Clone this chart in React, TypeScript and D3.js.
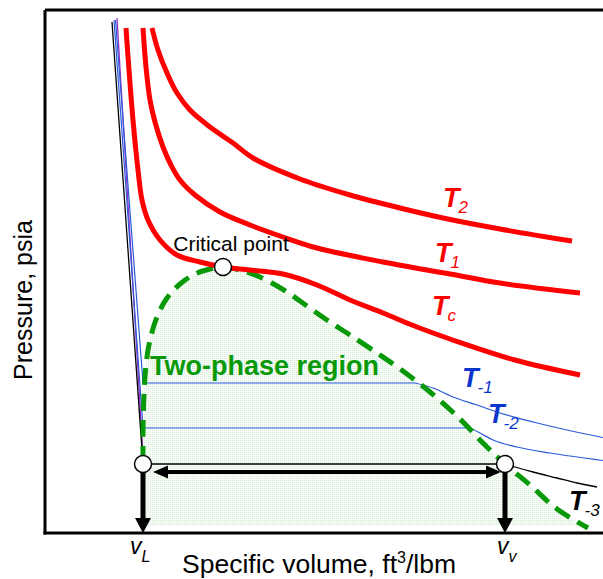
import React from 'react';
import * as d3 from 'd3';

const WIDTH = 603;
const HEIGHT = 579;

// Axis extents (arbitrary units of specific volume and pressure)
const VOLUME_MAX = 11.16;
const PRESSURE_MAX = 10.46;

// Supercritical / critical isotherms: [specific volume, pressure]
const isothermT2: [number, number][] = [
  [2.14, 10.1], [2.26, 9.66], [2.44, 9.2], [2.64, 8.8], [2.9, 8.46], [3.3, 8.12],
  [3.76, 7.8], [4.16, 7.5], [5.1, 7.08], [6.1, 6.76], [7.1, 6.5], [7.96, 6.3],
  [9.1, 6.08], [10.54, 5.84],
];
const isothermT1: [number, number][] = [
  [1.96, 10.1], [2.02, 9.32], [2.1, 8.66], [2.2, 8.22], [2.36, 7.72], [2.52, 7.36],
  [2.7, 7.06], [3.0, 6.76], [3.5, 6.42], [4.1, 6.16], [4.76, 5.92], [5.44, 5.7],
  [6.76, 5.42], [8.1, 5.18], [9.1, 5.0], [10.7, 4.8],
];
const isothermTc: [number, number][] = [
  [1.62, 10.1], [1.68, 9.26], [1.76, 8.26], [1.86, 7.26], [1.94, 6.66], [2.06, 6.26],
  [2.3, 5.86], [2.64, 5.56], [3.1, 5.42], [3.56, 5.32], [4.1, 5.26], [4.76, 5.18],
  [5.44, 4.96], [6.1, 4.66], [6.76, 4.4], [7.44, 4.12], [8.1, 3.88], [9.4, 3.46],
  [10.7, 3.16],
];

// Saturation dome (liquid branch up to the critical point, then vapour branch)
const saturationDome: [number, number][] = [
  [1.96, 1.4], [1.96, 2.06], [1.98, 2.76], [2.02, 3.36], [2.1, 3.86], [2.24, 4.32],
  [2.44, 4.7], [2.7, 4.98], [3.0, 5.18], [3.3, 5.28], [3.56, 5.32], [3.9, 5.26],
  [4.3, 5.12], [4.84, 4.82], [5.1, 4.64], [5.64, 4.26], [6.1, 3.96], [6.7, 3.56],
  [7.1, 3.28], [7.7, 2.82], [8.3, 2.28], [8.76, 1.8], [9.2, 1.38], [9.7, 0.96],
  [10.24, 0.48], [10.86, 0.1],
];
const twoPhaseFloor = 0.14;
const criticalPoint: [number, number] = [3.56, 5.32];

// Subcritical isotherms: compressed liquid, saturated plateau, superheated vapour
const liquidTopT1: [number, number] = [1.41, 10.26];
const liquidTopT2: [number, number] = [1.38, 10.26];
const liquidTopT3: [number, number] = [1.34, 10.22];
const liquidTopExtra: [number, number] = [1.44, 10.3];
const liquidEndExtra: [number, number] = [1.96, 1.56];
const satLiquidVolume = 1.96;
const plateauT1 = { pressure: 3.0, vaporVolume: 7.4 };
const plateauT2 = { pressure: 2.1, vaporVolume: 8.5 };
const plateauT3 = { pressure: 1.38, vaporVolume: 9.2 };
const vaporT1: [number, number][] = [
  [7.4, 3.0], [7.76, 2.9], [8.16, 2.72], [8.64, 2.56], [9.1, 2.4], [9.76, 2.22],
  [10.44, 2.06], [11.16, 1.91],
];
const vaporT2: [number, number][] = [
  [8.5, 2.1], [8.7, 2.0], [8.96, 1.86], [9.44, 1.72], [10.1, 1.6], [11.16, 1.45],
];
const vaporT3: [number, number][] = [
  [9.2, 1.38], [9.4, 1.32], [9.76, 1.22], [10.24, 1.1], [10.64, 1.0], [11.04, 0.92],
];
const arrowPressure = 1.22;

const RED = '#ff0000';
const GREEN = '#079907';
const BLUE_LINE = '#2a5ad8';
const BLUE_TEXT = '#0a36cc';
const FONT = "'Liberation Sans', Arial, Helvetica, sans-serif";

const x = d3.scaleLinear().domain([0, VOLUME_MAX]).range([45, 603]);
const y = d3.scaleLinear().domain([0, PRESSURE_MAX]).range([533, 10]);

const smooth = d3
  .line<[number, number]>()
  .x((d) => x(d[0]))
  .y((d) => y(d[1]))
  .curve(d3.curveCatmullRom.alpha(0.5));
const straight = d3
  .line<[number, number]>()
  .x((d) => x(d[0]))
  .y((d) => y(d[1]));
const vaporLine = d3
  .line<[number, number]>()
  .x((d) => x(d[0]))
  .y((d) => y(d[1]))
  .curve(d3.curveMonotoneX);

function TLabel({ v, p, sub, color }: { v: number; p: number; sub: string; color: string }) {
  return (
    <text x={x(v)} y={y(p)} fill={color} fontFamily={FONT} fontStyle="italic">
      <tspan fontWeight="bold" fontSize={27}>T</tspan>
      <tspan fontSize={17} dx={-1} dy={6}>{sub}</tspan>
    </text>
  );
}

function VLabel({ v, sub }: { v: number; sub: string }) {
  return (
    <text x={x(v)} y={554} fontFamily={FONT} fontStyle="italic" fill="#000">
      <tspan fontSize={23}>v</tspan>
      <tspan fontSize={16} dx={0} dy={8}>{sub}</tspan>
    </text>
  );
}

export default function App() {
  const vL = satLiquidVolume;
  const vV = plateauT3.vaporVolume;
  const r = 8.5;

  const domePath = smooth(saturationDome) as string;
  const first = saturationDome[0];
  const last = saturationDome[saturationDome.length - 1];
  const fillPath =
    domePath +
    `L${x(last[0])},${y(twoPhaseFloor)}L${x(first[0])},${y(twoPhaseFloor)}Z`;

  const isothermLeft = (top: [number, number], pl: { pressure: number; vaporVolume: number }) =>
    straight([top, [satLiquidVolume, pl.pressure], [pl.vaporVolume, pl.pressure]]) as string;

  // arrows
  const ay = y(arrowPressure);
  const hx1 = x(vL) + 10;
  const hx2 = x(vV) - 4;
  const headL = 15;
  const headW = 6.5;
  const xL = x(vL);
  const xV = x(vV);
  const yCirc = y(plateauT3.pressure);
  const yBase = y(0);

  return (
    <svg
      width={WIDTH}
      height={HEIGHT}
      style={{ position: 'absolute', left: 0, top: 0, display: 'block', background: '#fff' }}
    >
      <defs>
        <pattern id="twoPhaseDots" width={2} height={2} patternUnits="userSpaceOnUse">
          <rect width={2} height={2} fill="#f7fcf7" />
          <rect width={1} height={1} fill="#d6ecd6" />
        </pattern>
      </defs>

      {/* two-phase region */}
      <path d={fillPath} fill="url(#twoPhaseDots)" stroke="none" />

      {/* subcritical isotherms */}
      <path d={straight([liquidTopExtra, liquidEndExtra]) as string} fill="none" stroke="#9b30c8" strokeWidth={1.3} />
      <path d={isothermLeft(liquidTopT1, plateauT1)} fill="none" stroke={BLUE_LINE} strokeWidth={1.2} />
      <path d={vaporLine(vaporT1) as string} fill="none" stroke={BLUE_LINE} strokeWidth={1.2} />
      <path d={isothermLeft(liquidTopT2, plateauT2)} fill="none" stroke={BLUE_LINE} strokeWidth={1.2} />
      <path d={vaporLine(vaporT2) as string} fill="none" stroke={BLUE_LINE} strokeWidth={1.2} />
      <path d={isothermLeft(liquidTopT3, plateauT3)} fill="none" stroke="#000" strokeWidth={1.3} />
      <path d={vaporLine(vaporT3) as string} fill="none" stroke="#000" strokeWidth={1.3} />

      {/* saturation dome */}
      <path d={domePath} fill="none" stroke={GREEN} strokeWidth={5} strokeDasharray="17 9" />

      {/* critical and supercritical isotherms */}
      <path d={smooth(isothermTc) as string} fill="none" stroke={RED} strokeWidth={5} />
      <path d={smooth(isothermT1) as string} fill="none" stroke={RED} strokeWidth={5} />
      <path d={smooth(isothermT2) as string} fill="none" stroke={RED} strokeWidth={5} />

      {/* frame */}
      <line x1={45} x2={603} y1={10} y2={10} stroke="#000" strokeWidth={3} />
      <line x1={45} x2={45} y1={10} y2={534.5} stroke="#000" strokeWidth={3} />
      <line x1={43.5} x2={603} y1={533} y2={533} stroke="#000" strokeWidth={3} />

      {/* double arrow between saturated liquid and vapour volumes */}
      <line x1={hx1 + headL - 1} x2={hx2 - headL + 1} y1={ay} y2={ay} stroke="#000" strokeWidth={4} />
      <polygon
        points={`${hx1},${ay} ${hx1 + headL},${ay - headW} ${hx1 + headL},${ay + headW}`}
        fill="#000"
      />
      <polygon
        points={`${hx2},${ay} ${hx2 - headL},${ay - headW} ${hx2 - headL},${ay + headW}`}
        fill="#000"
      />

      {/* drop arrows to the volume axis */}
      {[xL, xV].map((cx, i) => (
        <g key={i}>
          <line x1={cx} x2={cx} y1={yCirc} y2={yBase - 13} stroke="#000" strokeWidth={5} />
          <polygon
            points={`${cx},${yBase} ${cx - 8},${yBase - 15} ${cx + 8},${yBase - 15}`}
            fill="#000"
          />
        </g>
      ))}

      {/* marked states */}
      <circle cx={xL} cy={yCirc} r={r} fill="#fff" stroke="#000" strokeWidth={1.5} />
      <circle cx={xV} cy={yCirc} r={r} fill="#fff" stroke="#000" strokeWidth={1.5} />
      <circle cx={x(criticalPoint[0])} cy={y(criticalPoint[1])} r={r} fill="#fff" stroke="#000" strokeWidth={1.5} />

      {/* annotations */}
      <text x={x(criticalPoint[0]) + 8} y={y(criticalPoint[1]) - 16} textAnchor="middle" fontFamily={FONT} fontSize={21} fill="#000">
        Critical point
      </text>
      <text x={x(2.1)} y={y(3.16)} fontFamily={FONT} fontSize={27} fontWeight="bold" fill={GREEN}>
        Two-phase region
      </text>

      <TLabel v={7.96} p={6.52} sub="2" color={RED} />
      <TLabel v={7.8} p={5.42} sub="1" color={RED} />
      <TLabel v={7.74} p={4.36} sub="c" color={RED} />
      <TLabel v={8.34} p={2.92} sub="-1" color={BLUE_TEXT} />
      <TLabel v={8.86} p={2.2} sub="-2" color={BLUE_TEXT} />
      <TLabel v={10.48} p={0.46} sub="-3" color="#000" />

      <VLabel v={1.7} sub="L" />
      <VLabel v={9.04} sub="v" />

      {/* axis titles */}
      <text x={182} y={573} fontFamily={FONT} fontSize={26.5} fill="#000">
        Specific volume, ft<tspan fontSize={16} dy={-10}>3</tspan>
        <tspan dy={10}>/lbm</tspan>
      </text>
      <text
        transform="translate(32,300) rotate(-90)"
        textAnchor="middle"
        fontFamily={FONT}
        fontSize={25}
        fill="#000"
      >
        Pressure, psia
      </text>
    </svg>
  );
}
